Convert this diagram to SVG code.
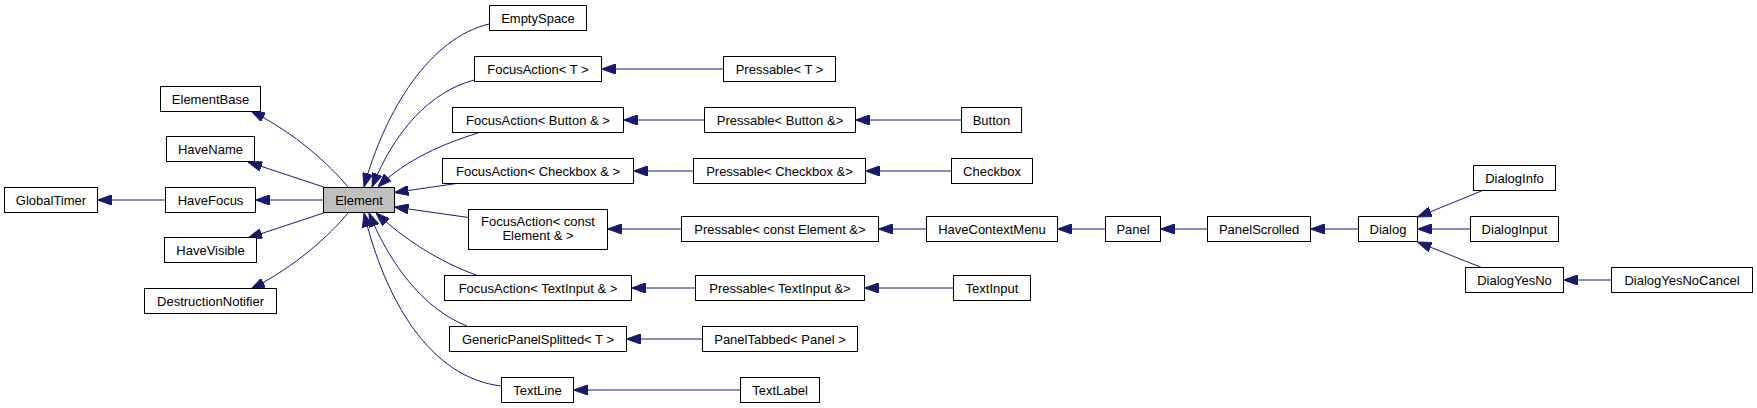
<svg xmlns="http://www.w3.org/2000/svg" width="1757" height="408" viewBox="0 0 1757 408">
<style>
.n rect{fill:#fff;stroke:#000;stroke-width:1}
.n text{font-family:"Liberation Sans",Arial,Helvetica,sans-serif;font-size:13px;text-anchor:middle;fill:#000}
#edges path{fill:none;stroke:#191970;stroke-width:1;marker-end:url(#arr)}
</style>
<defs>
<marker id="arr" markerWidth="14" markerHeight="10" refX="14" refY="5" orient="auto" markerUnits="userSpaceOnUse">
<path d="M0,0 L14,5 L0,10 z" fill="#191970" stroke="#191970" stroke-width="1"/>
</marker>
</defs>
<rect width="1757" height="408" fill="#fff"/>
<g id="edges">
<path d="M165.5,200 L97.5,200"/>
<path d="M348,187 C330,165 295,133 251,111"/>
<path d="M323.5,187 L248,162"/>
<path d="M323.5,200 L255.5,200"/>
<path d="M323.5,213 L248,238"/>
<path d="M348,213 C330,235 295,267 251,289"/>
<path d="M489,24 C430,38 385,110 364,187"/>
<path d="M474,80 C430,92 395,130 372,187"/>
<path d="M478,133 C445,143 405,160 378,187"/>
<path d="M460,183 L394.5,192.5"/>
<path d="M468.5,217.5 L394.5,207"/>
<path d="M477,275.5 C440,262 405,240 376,213"/>
<path d="M467,326 C425,310 390,265 369,213"/>
<path d="M501.5,386 C430,378 385,300 364,213"/>
<path d="M723.5,69 L601.5,69"/>
<path d="M704.5,120 L623.5,120"/>
<path d="M961.5,120 L855.5,120"/>
<path d="M693.5,171 L633.5,171"/>
<path d="M951.5,171 L865.5,171"/>
<path d="M681.5,229 L607.5,229"/>
<path d="M926.5,229 L878.5,229"/>
<path d="M1105.5,229 L1057.5,229"/>
<path d="M1207.5,229 L1160.5,229"/>
<path d="M1358.5,229 L1310.5,229"/>
<path d="M1481.5,191 L1417.5,217"/>
<path d="M1470.5,229 L1417.5,229"/>
<path d="M1481.5,267.5 L1417.5,242"/>
<path d="M1611.5,280 L1563.5,280"/>
<path d="M695.5,288 L631.5,288"/>
<path d="M953.5,288 L864.5,288"/>
<path d="M702.5,339 L626.5,339"/>
<path d="M740.5,390 L573.5,390"/>
</g>
<g id="GlobalTimer" class="n"><rect x="4.5" y="187.5" width="93" height="25"/><text x="51" y="204.5">GlobalTimer</text></g>
<g id="ElementBase" class="n"><rect x="160.5" y="86.5" width="100" height="25"/><text x="210.5" y="103.5">ElementBase</text></g>
<g id="HaveName" class="n"><rect x="166.5" y="136.5" width="88" height="25"/><text x="210.5" y="153.5">HaveName</text></g>
<g id="HaveFocus" class="n"><rect x="165.5" y="187.5" width="90" height="25"/><text x="210.5" y="204.5">HaveFocus</text></g>
<g id="HaveVisible" class="n"><rect x="164.5" y="237.5" width="92" height="25"/><text x="210.5" y="254.5">HaveVisible</text></g>
<g id="DestructionNotifier" class="n"><rect x="144.5" y="288.5" width="132" height="25"/><text x="210.5" y="305.5">DestructionNotifier</text></g>
<g id="Element" class="n"><rect x="323.5" y="187.5" width="71" height="25" style="fill:#bfbfbf"/><text x="359" y="204.5">Element</text></g>
<g id="EmptySpace" class="n"><rect x="489.5" y="5.5" width="97" height="25"/><text x="538" y="22.5">EmptySpace</text></g>
<g id="FocusActionT" class="n"><rect x="474.5" y="56.5" width="127" height="25"/><text x="538" y="73.5">FocusAction&lt; T &gt;</text></g>
<g id="PressableT" class="n"><rect x="723.5" y="56.5" width="112" height="25"/><text x="779.5" y="73.5">Pressable&lt; T &gt;</text></g>
<g id="FocusActionButton" class="n"><rect x="452.5" y="107.5" width="171" height="25"/><text x="538" y="124.5">FocusAction&lt; Button &amp; &gt;</text></g>
<g id="PressableButton" class="n"><rect x="704.5" y="107.5" width="151" height="25"/><text x="780" y="124.5">Pressable&lt; Button &amp;&gt;</text></g>
<g id="Button" class="n"><rect x="961.5" y="107.5" width="60" height="25"/><text x="991.5" y="124.5">Button</text></g>
<g id="FocusActionCheckbox" class="n"><rect x="442.5" y="158.5" width="191" height="25"/><text x="538" y="175.5">FocusAction&lt; Checkbox &amp; &gt;</text></g>
<g id="PressableCheckbox" class="n"><rect x="693.5" y="158.5" width="172" height="25"/><text x="779.5" y="175.5">Pressable&lt; Checkbox &amp;&gt;</text></g>
<g id="Checkbox" class="n"><rect x="951.5" y="158.5" width="81" height="25"/><text x="992" y="175.5">Checkbox</text></g>
<g id="FocusActionConstElement" class="n"><rect x="468.5" y="209.5" width="139" height="40"/><text x="538" y="225.5">FocusAction&lt; const</text><text x="538" y="240">Element &amp; &gt;</text></g>
<g id="PressableConstElement" class="n"><rect x="681.5" y="216.5" width="197" height="25"/><text x="780" y="233.5">Pressable&lt; const Element &amp;&gt;</text></g>
<g id="HaveContextMenu" class="n"><rect x="926.5" y="216.5" width="131" height="25"/><text x="992" y="233.5">HaveContextMenu</text></g>
<g id="Panel" class="n"><rect x="1105.5" y="216.5" width="55" height="25"/><text x="1133" y="233.5">Panel</text></g>
<g id="PanelScrolled" class="n"><rect x="1207.5" y="216.5" width="103" height="25"/><text x="1259" y="233.5">PanelScrolled</text></g>
<g id="Dialog" class="n"><rect x="1358.5" y="216.5" width="59" height="25"/><text x="1388" y="233.5">Dialog</text></g>
<g id="DialogInfo" class="n"><rect x="1473.5" y="165.5" width="82" height="25"/><text x="1514.5" y="182.5">DialogInfo</text></g>
<g id="DialogInput" class="n"><rect x="1470.5" y="216.5" width="88" height="25"/><text x="1514.5" y="233.5">DialogInput</text></g>
<g id="DialogYesNo" class="n"><rect x="1465.5" y="267.5" width="98" height="25"/><text x="1514.5" y="284.5">DialogYesNo</text></g>
<g id="DialogYesNoCancel" class="n"><rect x="1611.5" y="267.5" width="141" height="25"/><text x="1682" y="284.5">DialogYesNoCancel</text></g>
<g id="FocusActionTextInput" class="n"><rect x="444.5" y="275.5" width="187" height="25"/><text x="538" y="292.5">FocusAction&lt; TextInput &amp; &gt;</text></g>
<g id="PressableTextInput" class="n"><rect x="695.5" y="275.5" width="169" height="25"/><text x="780" y="292.5">Pressable&lt; TextInput &amp;&gt;</text></g>
<g id="TextInput" class="n"><rect x="953.5" y="275.5" width="77" height="25"/><text x="992" y="292.5">TextInput</text></g>
<g id="GenericPanelSplittedT" class="n"><rect x="449.5" y="326.5" width="177" height="25"/><text x="538" y="343.5">GenericPanelSplitted&lt; T &gt;</text></g>
<g id="PanelTabbedPanel" class="n"><rect x="702.5" y="326.5" width="155" height="25"/><text x="780" y="343.5">PanelTabbed&lt; Panel &gt;</text></g>
<g id="TextLine" class="n"><rect x="501.5" y="377.5" width="72" height="25"/><text x="537.5" y="394.5">TextLine</text></g>
<g id="TextLabel" class="n"><rect x="740.5" y="377.5" width="79" height="25"/><text x="780" y="394.5">TextLabel</text></g>
</svg>
